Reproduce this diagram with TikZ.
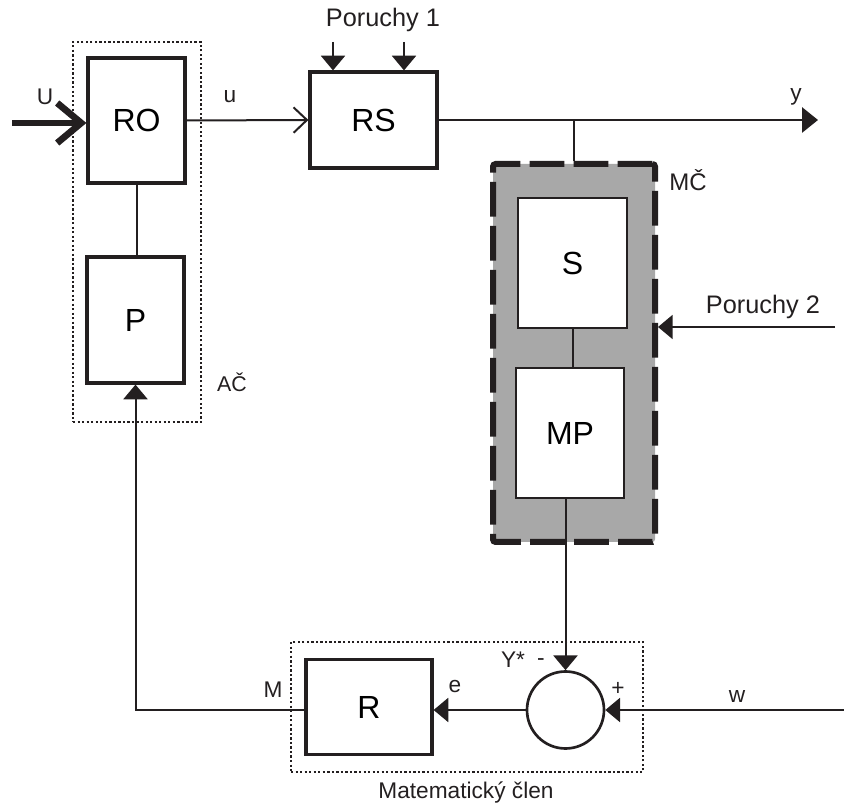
\documentclass[tikz,border=0pt]{standalone}
\usepackage{fontspec}
\setmainfont{Liberation Sans}
\usetikzlibrary{positioning, arrows.meta, calc}
\definecolor{cLine}{HTML}{231F20}
\definecolor{cGray}{HTML}{A8A8A8}

\tikzset{
  blok/.style={draw=cLine, line width=2.4pt, fill=white, inner sep=0pt,
               font=\fontsize{24}{28}\selectfont},
  spoj/.style={draw=cLine, line width=1.5pt},
  tip/.style={-{Triangle[length=11pt, width=18pt]}},
  popis/.style={font=\fontsize{17}{20}\selectfont, text=cLine, inner sep=0pt},
  tecky/.style={draw=cLine, line width=1.7pt, dash pattern=on 1.7pt off 1.7pt,
                inner sep=0pt},
}

\begin{document}
\begin{tikzpicture}[x=0.75pt, y=-0.75pt]
  \useasboundingbox (0,0) rectangle (844,805);

  % ramecky
  \node[tecky, minimum width=96pt, minimum height=285pt] (ac) at (137,232) {};
  \node[tecky, minimum width=264pt, minimum height=97.5pt] (mat) at (467,707) {};
  \node[draw=cLine, fill=cGray, line width=4.5pt, rounded corners=2pt,
        dash pattern=on 26pt off 7pt, inner sep=0pt,
        minimum width=121.5pt, minimum height=283.5pt] (mc) at (574,353) {};

  % bloky
  \node[blok, minimum width=72.75pt, minimum height=93.75pt] (ro) at (136.5,120.5) {RO};
  \node[blok, minimum width=72.75pt, minimum height=94.5pt] (p) at (135.5,320) {P};
  \node[blok, minimum width=95.25pt, minimum height=72pt] (rs) at (373.5,120) {RS};
  \node[blok, line width=2pt, minimum width=81.75pt, minimum height=97.5pt] (s) at (572.5,263) {S};
  \node[blok, line width=2pt, minimum width=81pt, minimum height=97.5pt] (mp) at (570,433) {MP};
  \node[blok, minimum width=94.5pt, minimum height=71.25pt] (r) at (369,707) {R};
  \node[draw=cLine, line width=2pt, circle, fill=white, inner sep=0pt,
        minimum size=57.75pt] (sum) at (565.5,710) {};

  \coordinate (uin) at (12,123);
  \coordinate (yout) at (818,120);
  \coordinate (p1a) at (333,42);
  \coordinate (p1b) at (404,42);
  \coordinate (p2) at (835,327);
  \coordinate (win) at (844,710);

  % spoje
  \draw[cLine, line width=5pt, -{Straight Barb[length=18pt, width=30pt]}] (uin) -- (ro.west |- uin);
  \draw[spoj, -{Straight Barb[length=10pt, width=19pt]}] (ro.east) -- (rs.west);
  \draw[spoj] (ro.south) -- (ro.south |- p.north);
  \draw[spoj, tip] (p1a) -- (p1a |- rs.north);
  \draw[spoj, tip] (p1b) -- (p1b |- rs.north);
  \draw[spoj, -{Triangle[length=12pt, width=19pt]}] (rs.east) -- (yout);
  \draw[spoj] (mc.north |- rs.east) -- (mc.north);
  \draw[spoj] (s.south) -- (s.south |- mp.north);
  \draw[spoj, tip] (mp.south -| sum.north) -- (sum.north);
  \draw[spoj, tip] (p2) -- (p2 -| mc.east);
  \draw[spoj, tip] (win) -- (sum.east);
  \draw[spoj, tip] (sum.west) -- (sum.west -| r.east);
  \draw[spoj, tip] (r.west |- sum.west) -| (p.south);

  % popisy
  \node[popis] (lU) at (45,97) {U};
  \node[popis] (lu) at (230,97) {u};
  \node[popis, font=\fontsize{19}{22}\selectfont] (lp1) at (383,20) {Poruchy 1};
  \node[popis] (ly) at (796,97) {y};
  \node[popis, font=\fontsize{18}{21}\selectfont] (lmc) at (688,180) {MČ};
  \node[popis, font=\fontsize{19}{22}\selectfont] (lp2) at (763,307) {Poruchy 2};
  \node[popis, font=\fontsize{16}{19}\selectfont] (lac) at (232,382) {AČ};
  \node[popis] (lM) at (273,690) {M};
  \node[popis] (le) at (455,687) {e};
  \node[popis] (lY) at (513,660) {Y*};
  \node[popis] (lminus) at (541,662) {-};
  \node[popis] (lplus) at (618,689) {+};
  \node[popis] (lw) at (737,697) {w};
  \node[popis, font=\fontsize{17}{20}\selectfont] (lmat) at (466,793) {Matematický člen};
\end{tikzpicture}
\end{document}
